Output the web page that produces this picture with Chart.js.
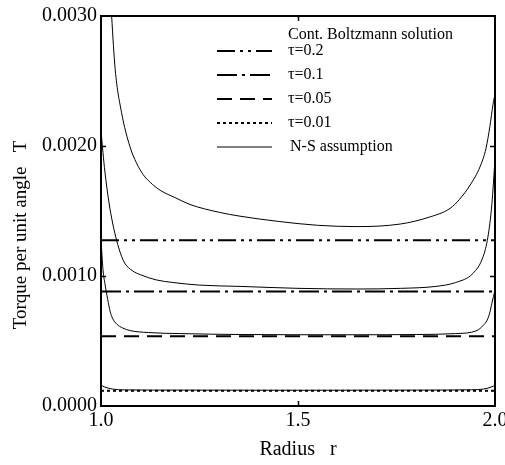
<!DOCTYPE html>
<html lang="en">
<head>
<meta charset="utf-8"/>
<title>Torque per unit angle</title>
<script src="https://cdn.jsdelivr.net/npm/chart.js"></script>
<style>
  body { margin: 0; background: #fff; }
</style>
</head>
<body>
<canvas id="torqueChart" width="505" height="465"></canvas>
<script>
  // Continuum Boltzmann solutions (flat lines)
  const tauLabels = ['τ=0.2', 'τ=0.1', 'τ=0.05', 'τ=0.01'];
  const boltzLevels = [0.001275, 0.00088, 0.000537, 0.000117];

  // N-S assumption curves, one per tau
  const rNS1 = [1.018, 1.027, 1.036, 1.052, 1.074, 1.09, 1.107, 1.125, 1.15, 1.19, 1.226, 1.3, 1.353, 1.45, 1.55, 1.65, 1.76, 1.83, 1.886, 1.91, 1.937, 1.962, 1.977, 1.987, 1.995, 2.0];
  const tNS1 = [0.0035, 0.0030, 0.00259, 0.00226, 0.00199, 0.00187, 0.00178, 0.00172, 0.00166, 0.0016, 0.00155, 0.00149, 0.00146, 0.00142, 0.00139, 0.00138, 0.0014, 0.00145, 0.00152, 0.00159, 0.0017, 0.00184, 0.00198, 0.00215, 0.00232, 0.0024];

  const rNS2 = [1.0, 1.005, 1.01, 1.02, 1.03, 1.04, 1.05, 1.06, 1.08, 1.1, 1.14, 1.183, 1.25, 1.353, 1.5, 1.65, 1.76, 1.85, 1.9, 1.944, 1.97, 1.982, 1.992, 2.0];
  const tNS2 = [0.00212, 0.00195, 0.0018, 0.00157, 0.0014, 0.00127, 0.00117, 0.0011, 0.00104, 0.00101, 0.00097, 0.00095, 0.00093, 0.00092, 0.000905, 0.0009, 0.000905, 0.00092, 0.00095, 0.00102, 0.00115, 0.0013, 0.00155, 0.0019];

  const rNS3 = [1.0, 1.005, 1.01, 1.017, 1.023, 1.03, 1.04, 1.055, 1.074, 1.12, 1.2, 1.35, 1.5, 1.65, 1.8, 1.9, 1.954, 1.97, 1.98, 1.987, 1.992, 2.0];
  const tNS3 = [0.00128, 0.00105, 0.00094, 0.00082, 0.00073, 0.00067, 0.00063, 0.0006, 0.00058, 0.000565, 0.000557, 0.00055, 0.000548, 0.000548, 0.00055, 0.000557, 0.00058, 0.00062, 0.00066, 0.00072, 0.00079, 0.00089];

  const rNS4 = [1.0, 1.01, 1.03, 1.06, 1.2, 1.5, 1.8, 1.94, 1.97, 1.99, 2.0];
  const tNS4 = [0.00016, 0.000145, 0.00013, 0.000124, 0.000122, 0.000121, 0.000122, 0.000125, 0.00013, 0.000145, 0.00016];

  const xTicks = [1.0, 1.5, 2.0];
  const yTicks = [0.0, 0.001, 0.002, 0.003];

  const serif = "'Liberation Serif', 'Times New Roman', serif";
  const boltzDash = [[18, 5, 3, 5, 3, 5], [20, 5, 3, 5], [15, 8], [3, 3]];

  function pairs(xs, ys) {
    return xs.map((x, i) => ({ x: x, y: ys[i] }));
  }

  const datasets = [];
  boltzLevels.forEach((v, i) => {
    datasets.push({
      label: tauLabels[i],
      data: [{ x: xTicks[0], y: v }, { x: xTicks[2], y: v }],
      borderColor: '#000',
      borderWidth: 2,
      borderDash: boltzDash[i],
      pointRadius: 0
    });
  });
  [[rNS1, tNS1], [rNS2, tNS2], [rNS3, tNS3], [rNS4, tNS4]].forEach((c, i) => {
    datasets.push({
      label: i === 0 ? 'N-S assumption' : '',
      data: pairs(c[0], c[1]),
      borderColor: '#000',
      borderWidth: 1,
      pointRadius: 0,
      cubicInterpolationMode: 'monotone'
    });
  });

  // frame, inward ticks, legend and axis titles
  const decor = {
    id: 'decor',
    afterDatasetsDraw(chart) {
      const ctx = chart.ctx;
      const a = chart.chartArea;
      const xs = chart.scales.x, ys = chart.scales.y;
      ctx.save();
      ctx.strokeStyle = '#000';
      ctx.lineWidth = 2;
      ctx.strokeRect(a.left, a.top, a.right - a.left, a.bottom - a.top);

      ctx.lineWidth = 1.5;
      ctx.beginPath();
      yTicks.slice(1, -1).forEach(v => {
        const py = Math.round(ys.getPixelForValue(v)) + 0.5;
        ctx.moveTo(a.left, py); ctx.lineTo(a.left + 5, py);
        ctx.moveTo(a.right, py); ctx.lineTo(a.right - 5, py);
      });
      xTicks.slice(1, -1).forEach(v => {
        const px = Math.round(xs.getPixelForValue(v)) + 0.5;
        ctx.moveTo(px, a.bottom); ctx.lineTo(px, a.bottom - 5);
        ctx.moveTo(px, a.top); ctx.lineTo(px, a.top + 5);
      });
      ctx.stroke();

      // legend
      ctx.fillStyle = '#000';
      ctx.font = '16px ' + serif;
      ctx.textBaseline = 'middle';
      ctx.textAlign = 'left';
      ctx.fillText('Cont. Boltzmann solution', 288, 35);
      const rows = datasets.slice(0, 5);
      rows.forEach((d, i) => {
        const y = 51 + i * 24;
        ctx.beginPath();
        ctx.lineWidth = d.borderWidth;
        ctx.setLineDash(d.borderDash || []);
        ctx.moveTo(217, y); ctx.lineTo(272, y);
        ctx.stroke();
        ctx.setLineDash([]);
        ctx.fillText(d.label, i === 4 ? 290 : 288, y);
      });

      // axis titles
      ctx.font = '20px ' + serif;
      ctx.textAlign = 'center';
      ctx.fillText('Radius   r', (a.left + a.right) / 2, 450);
      ctx.translate(21, 235);
      ctx.rotate(-Math.PI / 2);
      ctx.font = '19px ' + serif;
      ctx.fillText('Torque per unit angle   T', 0, 0);
      ctx.restore();
    }
  };

  new Chart(document.getElementById('torqueChart'), {
    type: 'line',
    data: { datasets: datasets },
    options: {
      responsive: false,
      animation: false,
      devicePixelRatio: 1,
      layout: { padding: { top: 13, right: 10, left: 0, bottom: 0 } },
      plugins: { legend: { display: false }, tooltip: { enabled: false } },
      scales: {
        x: {
          type: 'linear',
          min: 1, max: 2,
          afterFit: s => { s.height = 59; s.paddingRight = 0; s.paddingLeft = 0; },
          afterBuildTicks: s => { s.ticks = xTicks.map(v => ({ value: v })); },
          grid: { display: false, drawTicks: false },
          border: { display: false },
          ticks: {
            color: '#000', padding: 3, maxRotation: 0,
            font: { family: serif, size: 20 },
            callback: v => v.toFixed(1)
          }
        },
        y: {
          min: 0, max: 0.003,
          afterFit: s => { s.width = 101; },
          afterBuildTicks: s => { s.ticks = yTicks.map(v => ({ value: v })); },
          grid: { display: false, drawTicks: false },
          border: { display: false },
          ticks: {
            color: '#000', padding: 4,
            font: { family: serif, size: 20 },
            callback: v => v.toFixed(4)
          }
        }
      }
    },
    plugins: [decor]
  });
</script>
</body>
</html>
